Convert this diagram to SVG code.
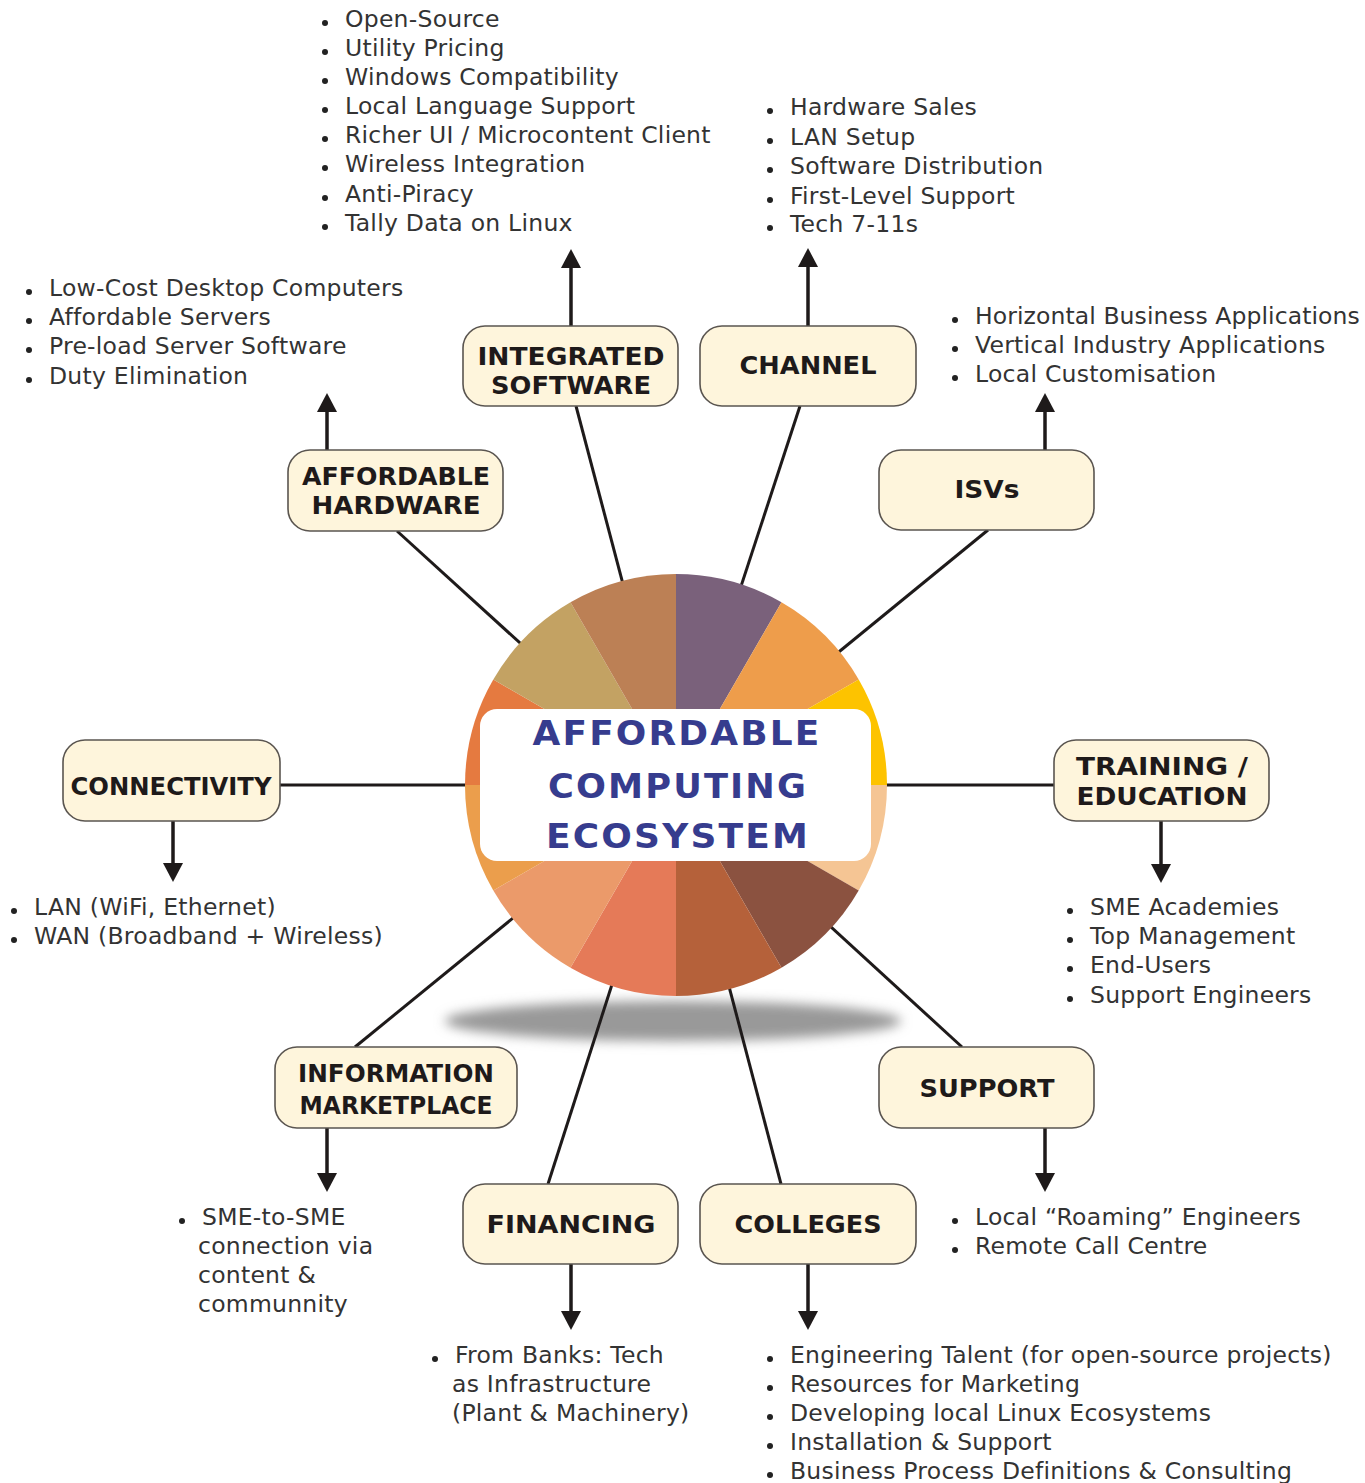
<svg xmlns="http://www.w3.org/2000/svg" width="1365" height="1483" viewBox="0 0 1365 1483">
<style>
.box{fill:#fef5dc;stroke:#5a5550;stroke-width:1.6}
.lbl{font-family:"DejaVu Sans","Liberation Sans",sans-serif;font-weight:bold;font-size:25px;fill:#1e1a1a;text-anchor:middle}
.txt{font-family:"DejaVu Sans","Liberation Sans",sans-serif;font-size:23.5px;fill:#333;letter-spacing:0.25px}
.dot{fill:#222}
.spoke{stroke:#1e1a1a;stroke-width:3;fill:none}
.arr{stroke:#1e1a1a;stroke-width:3.5;fill:none;marker-end:url(#ah)}
.title{font-family:"DejaVu Sans","Liberation Sans",sans-serif;font-weight:bold;font-size:33px;fill:#363c8e;text-anchor:middle;letter-spacing:2px}
</style>
<defs>
<marker id="ah" viewBox="0 0 19 20" refX="4" refY="10" markerWidth="19" markerHeight="20" markerUnits="userSpaceOnUse" orient="auto">
<path d="M0,0 L19,10 L0,20 Z" fill="#1e1a1a"/>
</marker>
<filter id="blur" x="-20%" y="-100%" width="140%" height="300%">
<feGaussianBlur stdDeviation="6"/>
</filter>
</defs>
<rect width="1365" height="1483" fill="#fff"/>

<ellipse cx="673" cy="1021" rx="228" ry="20" fill="#999" filter="url(#blur)"/>

<g id="connectors">
<line class="spoke" x1="676" y1="785" x2="576" y2="406"/>
<line class="spoke" x1="676" y1="785" x2="800" y2="406"/>
<line class="spoke" x1="676" y1="785" x2="397" y2="531"/>
<line class="spoke" x1="676" y1="785" x2="988" y2="530"/>
<line class="spoke" x1="676" y1="785" x2="280" y2="785"/>
<line class="spoke" x1="676" y1="785" x2="1054" y2="785"/>
<line class="spoke" x1="676" y1="785" x2="355" y2="1047"/>
<line class="spoke" x1="676" y1="785" x2="962" y2="1047"/>
<line class="spoke" x1="676" y1="785" x2="548" y2="1184"/>
<line class="spoke" x1="676" y1="785" x2="781" y2="1184"/>
<line class="arr" x1="327" y1="450" x2="327" y2="408"/>
<line class="arr" x1="571" y1="326" x2="571" y2="264"/>
<line class="arr" x1="808" y1="326" x2="808" y2="263"/>
<line class="arr" x1="1045" y1="450" x2="1045" y2="408"/>
<line class="arr" x1="173" y1="821" x2="173" y2="867"/>
<line class="arr" x1="1161" y1="821" x2="1161" y2="868"/>
<line class="arr" x1="327" y1="1128" x2="327" y2="1177"/>
<line class="arr" x1="1045" y1="1128" x2="1045" y2="1177"/>
<line class="arr" x1="571" y1="1264" x2="571" y2="1315"/>
<line class="arr" x1="808" y1="1264" x2="808" y2="1315"/>
</g>

<g id="center">
<path d="M676 785 L676 574 A211 211 0 0 1 781.5 602.3 Z" fill="#7a617b"/>
<path d="M676 785 L781.5 602.3 A211 211 0 0 1 858.7 679.5 Z" fill="#ee9d4b"/>
<path d="M676 785 L858.7 679.5 A211 211 0 0 1 887 785 Z" fill="#fdc300"/>
<path d="M676 785 L887 785 A211 211 0 0 1 858.7 890.5 Z" fill="#f5c594"/>
<path d="M676 785 L858.7 890.5 A211 211 0 0 1 781.5 967.7 Z" fill="#8b5240"/>
<path d="M676 785 L781.5 967.7 A211 211 0 0 1 676 996 Z" fill="#b5613a"/>
<path d="M676 785 L676 996 A211 211 0 0 1 570.5 967.7 Z" fill="#e57a58"/>
<path d="M676 785 L570.5 967.7 A211 211 0 0 1 493.3 890.5 Z" fill="#eb9a6a"/>
<path d="M676 785 L493.3 890.5 A211 211 0 0 1 465 785 Z" fill="#eb9e4c"/>
<path d="M676 785 L465 785 A211 211 0 0 1 493.3 679.5 Z" fill="#e57a40"/>
<path d="M676 785 L493.3 679.5 A211 211 0 0 1 570.5 602.3 Z" fill="#c3a263"/>
<path d="M676 785 L570.5 602.3 A211 211 0 0 1 676 574 Z" fill="#bc8055"/>
<rect x="480" y="709" width="391" height="152" rx="17" fill="#fff"/>
<text class="title" x="677" y="745" textLength="289" lengthAdjust="spacingAndGlyphs">AFFORDABLE</text>
<text class="title" x="678" y="798" textLength="260" lengthAdjust="spacingAndGlyphs">COMPUTING</text>
<text class="title" x="678" y="848" textLength="264" lengthAdjust="spacingAndGlyphs">ECOSYSTEM</text>
</g>

<g id="integrated-software">
<rect class="box" x="463" y="326" width="215" height="80" rx="22"/>
<text class="lbl" x="571" y="365" textLength="187" lengthAdjust="spacingAndGlyphs">INTEGRATED</text>
<text class="lbl" x="571" y="394" textLength="160" lengthAdjust="spacingAndGlyphs">SOFTWARE</text>
</g>
<g id="channel">
<rect class="box" x="700" y="326" width="216" height="80" rx="22"/>
<text class="lbl" x="808" y="374" textLength="137" lengthAdjust="spacingAndGlyphs">CHANNEL</text>
</g>
<g id="affordable-hardware">
<rect class="box" x="288" y="450" width="215" height="81" rx="22"/>
<text class="lbl" x="396" y="485" textLength="188" lengthAdjust="spacingAndGlyphs">AFFORDABLE</text>
<text class="lbl" x="396" y="514" textLength="169" lengthAdjust="spacingAndGlyphs">HARDWARE</text>
</g>
<g id="isvs">
<rect class="box" x="879" y="450" width="215" height="80" rx="22"/>
<text class="lbl" x="987" y="498" textLength="65" lengthAdjust="spacingAndGlyphs">ISVs</text>
</g>
<g id="connectivity">
<rect class="box" x="63" y="740" width="217" height="81" rx="22"/>
<text class="lbl" x="171" y="795" textLength="201" lengthAdjust="spacingAndGlyphs">CONNECTIVITY</text>
</g>
<g id="training-education">
<rect class="box" x="1054" y="740" width="215" height="81" rx="22"/>
<text class="lbl" x="1162" y="775" textLength="172" lengthAdjust="spacingAndGlyphs">TRAINING /</text>
<text class="lbl" x="1162" y="805" textLength="171" lengthAdjust="spacingAndGlyphs">EDUCATION</text>
</g>
<g id="information-marketplace">
<rect class="box" x="275" y="1047" width="242" height="81" rx="22"/>
<text class="lbl" x="396" y="1082" textLength="196" lengthAdjust="spacingAndGlyphs">INFORMATION</text>
<text class="lbl" x="396" y="1114" textLength="193" lengthAdjust="spacingAndGlyphs">MARKETPLACE</text>
</g>
<g id="support">
<rect class="box" x="879" y="1047" width="215" height="81" rx="22"/>
<text class="lbl" x="987" y="1097" textLength="135" lengthAdjust="spacingAndGlyphs">SUPPORT</text>
</g>
<g id="financing">
<rect class="box" x="463" y="1184" width="215" height="80" rx="22"/>
<text class="lbl" x="571" y="1233" textLength="169" lengthAdjust="spacingAndGlyphs">FINANCING</text>
</g>
<g id="colleges">
<rect class="box" x="700" y="1184" width="216" height="80" rx="22"/>
<text class="lbl" x="808" y="1233" textLength="147" lengthAdjust="spacingAndGlyphs">COLLEGES</text>
</g>

<g id="list-software">
<circle class="dot" cx="325" cy="23" r="3"/><text class="txt" x="345" y="27">Open-Source</text>
<circle class="dot" cx="325" cy="52" r="3"/><text class="txt" x="345" y="56">Utility Pricing</text>
<circle class="dot" cx="325" cy="81" r="3"/><text class="txt" x="345" y="85">Windows Compatibility</text>
<circle class="dot" cx="325" cy="110" r="3"/><text class="txt" x="345" y="114">Local Language Support</text>
<circle class="dot" cx="325" cy="139" r="3"/><text class="txt" x="345" y="143">Richer UI / Microcontent Client</text>
<circle class="dot" cx="325" cy="168" r="3"/><text class="txt" x="345" y="172">Wireless Integration</text>
<circle class="dot" cx="325" cy="198" r="3"/><text class="txt" x="345" y="202">Anti-Piracy</text>
<circle class="dot" cx="325" cy="227" r="3"/><text class="txt" x="345" y="231">Tally Data on Linux</text>
</g>
<g id="list-channel">
<circle class="dot" cx="770" cy="111" r="3"/><text class="txt" x="790" y="115">Hardware Sales</text>
<circle class="dot" cx="770" cy="141" r="3"/><text class="txt" x="790" y="145">LAN Setup</text>
<circle class="dot" cx="770" cy="170" r="3"/><text class="txt" x="790" y="174">Software Distribution</text>
<circle class="dot" cx="770" cy="200" r="3"/><text class="txt" x="790" y="204">First-Level Support</text>
<circle class="dot" cx="770" cy="228" r="3"/><text class="txt" x="790" y="232">Tech 7-11s</text>
</g>
<g id="list-hardware">
<circle class="dot" cx="29" cy="292" r="3"/><text class="txt" x="49" y="296">Low-Cost Desktop Computers</text>
<circle class="dot" cx="29" cy="321" r="3"/><text class="txt" x="49" y="325">Affordable Servers</text>
<circle class="dot" cx="29" cy="350" r="3"/><text class="txt" x="49" y="354">Pre-load Server Software</text>
<circle class="dot" cx="29" cy="380" r="3"/><text class="txt" x="49" y="384">Duty Elimination</text>
</g>
<g id="list-isvs">
<circle class="dot" cx="955" cy="320" r="3"/><text class="txt" x="975" y="324" textLength="385" lengthAdjust="spacing">Horizontal Business Applications</text>
<circle class="dot" cx="955" cy="349" r="3"/><text class="txt" x="975" y="353">Vertical Industry Applications</text>
<circle class="dot" cx="955" cy="378" r="3"/><text class="txt" x="975" y="382">Local Customisation</text>
</g>
<g id="list-connectivity">
<circle class="dot" cx="14" cy="911" r="3"/><text class="txt" x="34" y="915">LAN (WiFi, Ethernet)</text>
<circle class="dot" cx="14" cy="940" r="3"/><text class="txt" x="34" y="944">WAN (Broadband + Wireless)</text>
</g>
<g id="list-training">
<circle class="dot" cx="1070" cy="911" r="3"/><text class="txt" x="1090" y="915">SME Academies</text>
<circle class="dot" cx="1070" cy="940" r="3"/><text class="txt" x="1090" y="944">Top Management</text>
<circle class="dot" cx="1070" cy="969" r="3"/><text class="txt" x="1090" y="973">End-Users</text>
<circle class="dot" cx="1070" cy="999" r="3"/><text class="txt" x="1090" y="1003">Support Engineers</text>
</g>
<g id="list-marketplace">
<circle class="dot" cx="182" cy="1221" r="3"/><text class="txt" x="202" y="1225">SME-to-SME</text>
<text class="txt" x="198" y="1254">connection via</text>
<text class="txt" x="198" y="1283">content &amp;</text>
<text class="txt" x="198" y="1312">communnity</text>
</g>
<g id="list-financing">
<circle class="dot" cx="435" cy="1359" r="3"/><text class="txt" x="455" y="1363">From Banks: Tech</text>
<text class="txt" x="452" y="1392">as Infrastructure</text>
<text class="txt" x="452" y="1421">(Plant &amp; Machinery)</text>
</g>
<g id="list-colleges">
<circle class="dot" cx="770" cy="1359" r="3"/><text class="txt" x="790" y="1363">Engineering Talent (for open-source projects)</text>
<circle class="dot" cx="770" cy="1388" r="3"/><text class="txt" x="790" y="1392">Resources for Marketing</text>
<circle class="dot" cx="770" cy="1417" r="3"/><text class="txt" x="790" y="1421">Developing local Linux Ecosystems</text>
<circle class="dot" cx="770" cy="1446" r="3"/><text class="txt" x="790" y="1450">Installation &amp; Support</text>
<circle class="dot" cx="770" cy="1475" r="3"/><text class="txt" x="790" y="1479">Business Process Definitions &amp; Consulting</text>
</g>
<g id="list-support">
<circle class="dot" cx="955" cy="1221" r="3"/><text class="txt" x="975" y="1225">Local “Roaming” Engineers</text>
<circle class="dot" cx="955" cy="1250" r="3"/><text class="txt" x="975" y="1254">Remote Call Centre</text>
</g>
</svg>
